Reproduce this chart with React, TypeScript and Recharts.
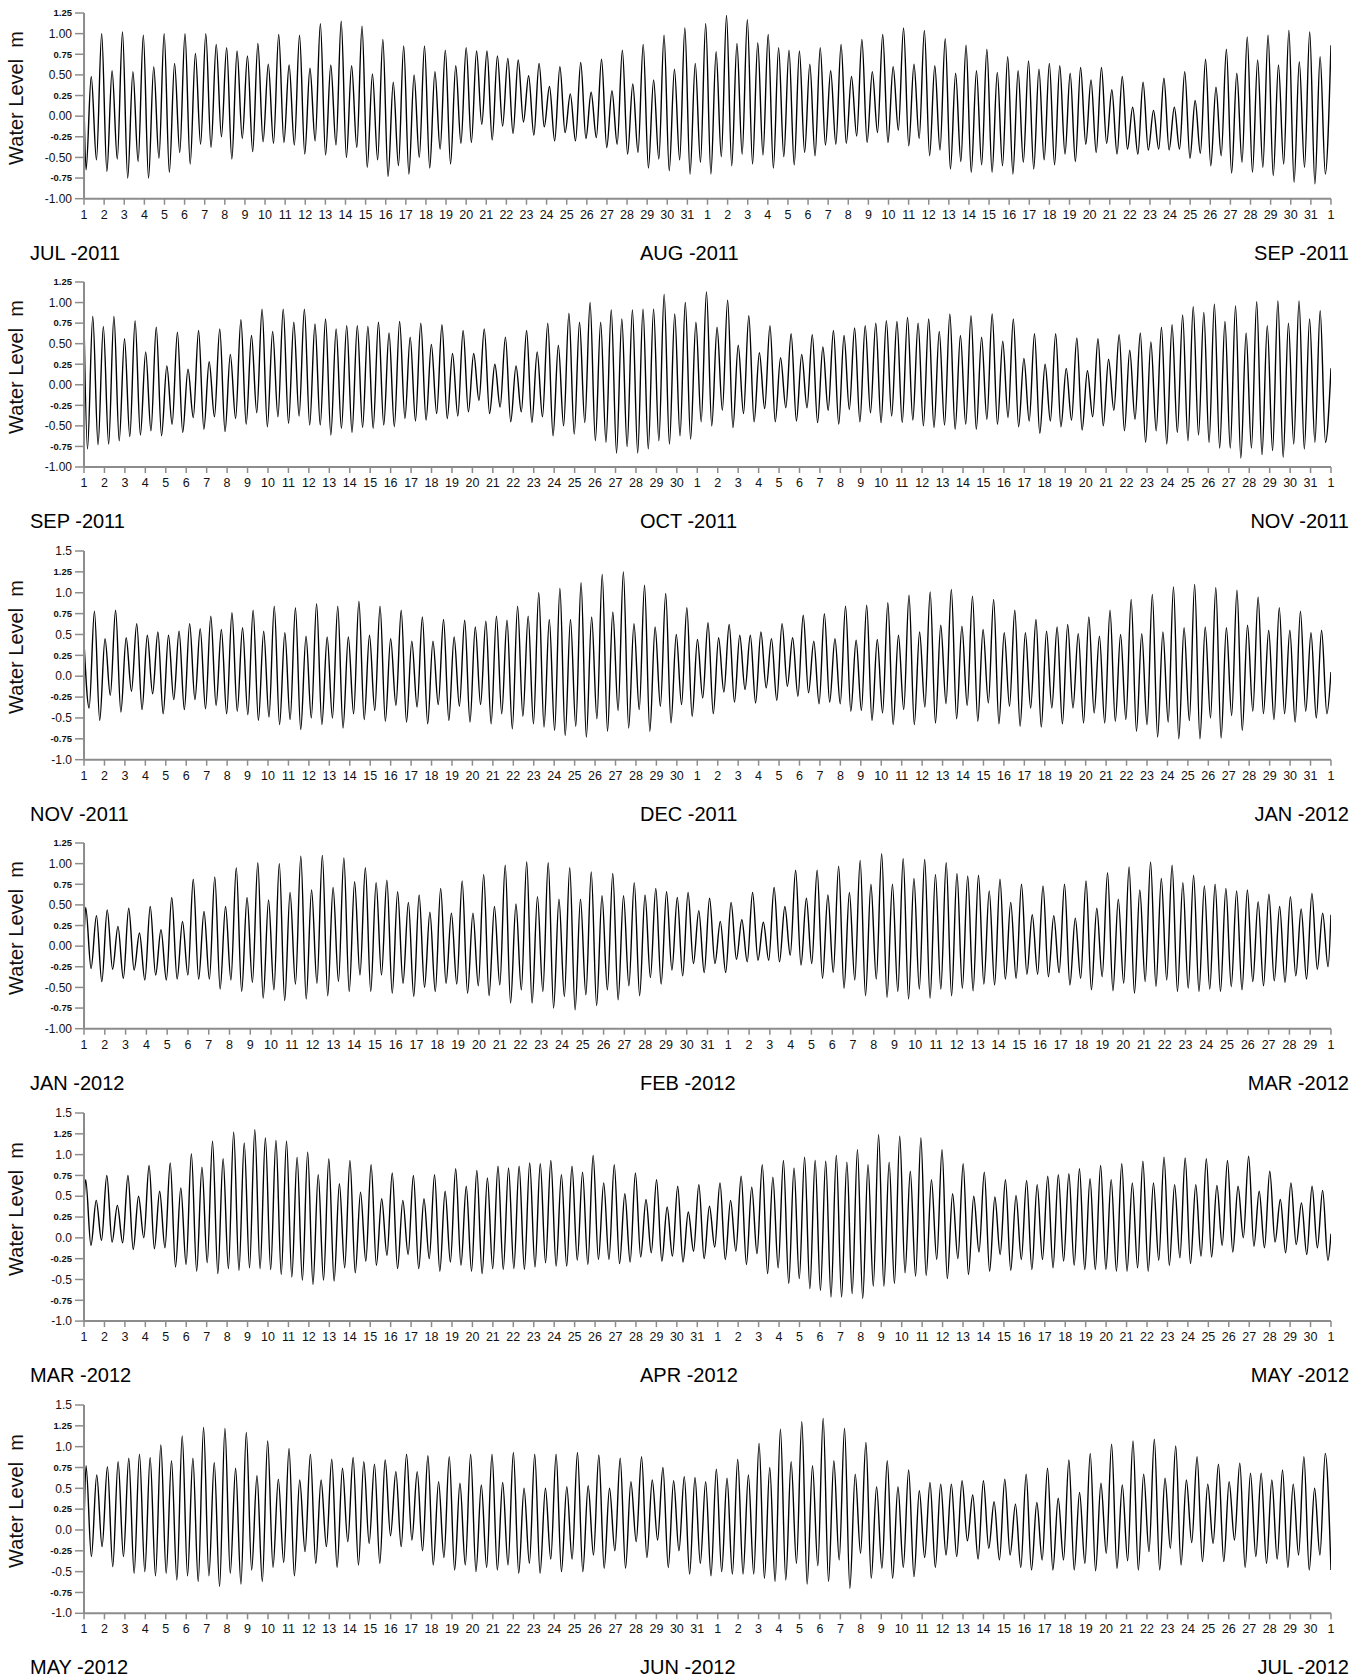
import { LineChart, Line, XAxis, YAxis } from 'recharts';

// Water level turning points (m): first value = level at the
// panel's left edge, last value = level at its right edge, everything between is the
// alternating sequence of tidal highs and lows.
const julAug2011 = [
  0.12,
  -0.65, 0.48, -0.53, 1.0, -0.67, 0.55, -0.52, 1.02, -0.75, 0.54, -0.55, 0.98,
  -0.75, 0.6, -0.51, 1.0, -0.68, 0.64, -0.44, 1.0, -0.58, 0.76, -0.34, 1.0,
  -0.38, 0.87, -0.25, 0.83, -0.52, 0.79, -0.27, 0.73, -0.43, 0.88, -0.31, 0.63,
  -0.33, 0.99, -0.32, 0.62, -0.35, 0.98, -0.46, 0.58, -0.3, 1.12, -0.47, 0.62,
  -0.35, 1.15, -0.5, 0.61, -0.38, 1.09, -0.62, 0.51, -0.53, 0.93, -0.73, 0.41,
  -0.6, 0.85, -0.7, 0.5, -0.5, 0.85, -0.63, 0.54, -0.4, 0.8, -0.58, 0.61,
  -0.33, 0.83, -0.32, 0.79, -0.1, 0.79, -0.29, 0.73, -0.12, 0.7, -0.21, 0.68,
  -0.07, 0.49, -0.23, 0.64, -0.13, 0.36, -0.3, 0.6, -0.2, 0.27, -0.3, 0.65,
  -0.27, 0.29, -0.26, 0.69, -0.38, 0.31, -0.34, 0.8, -0.46, 0.39, -0.44, 0.87,
  -0.63, 0.44, -0.52, 0.98, -0.66, 0.57, -0.53, 1.07, -0.7, 0.64, -0.56, 1.12,
  -0.7, 0.78, -0.49, 1.22, -0.6, 0.88, -0.46, 1.17, -0.58, 0.89, -0.47, 0.99,
  -0.63, 0.83, -0.49, 0.8, -0.59, 0.79, -0.44, 0.63, -0.48, 0.83, -0.35, 0.55,
  -0.34, 0.87, -0.33, 0.48, -0.24, 0.93, -0.32, 0.54, -0.2, 0.99, -0.32, 0.6,
  -0.17, 1.07, -0.36, 0.63, -0.27, 1.04, -0.48, 0.61, -0.41, 0.94, -0.64, 0.52,
  -0.55, 0.86, -0.68, 0.55, -0.59, 0.81, -0.68, 0.53, -0.6, 0.72, -0.7, 0.55,
  -0.56, 0.67, -0.64, 0.57, -0.53, 0.64, -0.59, 0.61, -0.46, 0.52, -0.55, 0.59,
  -0.34, 0.44, -0.44, 0.59, -0.33, 0.32, -0.46, 0.48, -0.4, 0.11, -0.46, 0.41,
  -0.41, 0.07, -0.4, 0.46, -0.41, 0.11, -0.4, 0.54, -0.51, 0.19, -0.45, 0.69,
  -0.6, 0.35, -0.48, 0.81, -0.69, 0.52, -0.56, 0.96, -0.68, 0.68,
  -0.62, 0.98, -0.72, 0.62, -0.58, 1.04, -0.8, 0.66, -0.62, 1.02, -0.82, 0.72,
  -0.7, 0.86,
];

const sepOct2011 = [
  0.78,
  -0.78, 0.83, -0.73, 0.71, -0.72, 0.83, -0.68, 0.56, -0.63, 0.78, -0.61, 0.4,
  -0.56, 0.7, -0.62, 0.23, -0.48, 0.64, -0.58, 0.19, -0.4, 0.66, -0.54, 0.28,
  -0.39, 0.68, -0.57, 0.37, -0.41, 0.79, -0.48, 0.6, -0.34, 0.92, -0.51, 0.65,
  -0.39, 0.92, -0.47, 0.76, -0.38, 0.92, -0.49, 0.74, -0.49, 0.8, -0.61, 0.68,
  -0.53, 0.72, -0.58, 0.72, -0.52, 0.71, -0.53, 0.76, -0.49, 0.63, -0.51, 0.77,
  -0.41, 0.58, -0.44, 0.75, -0.43, 0.49, -0.35, 0.73, -0.41, 0.38, -0.38, 0.66,
  -0.33, 0.38, -0.19, 0.68, -0.35, 0.25, -0.27, 0.58, -0.45, 0.23, -0.33, 0.66,
  -0.46, 0.4, -0.39, 0.75, -0.62, 0.48, -0.5, 0.87, -0.6, 0.76, -0.46, 1.0,
  -0.68, 0.76, -0.7, 0.91, -0.83, 0.8, -0.75, 0.91, -0.83, 0.92, -0.78, 0.92,
  -0.68, 1.1, -0.72, 0.86, -0.62, 1.0, -0.66, 0.76, -0.45, 1.13, -0.5, 0.7,
  -0.31, 1.03, -0.52, 0.48, -0.35, 0.84, -0.45, 0.39, -0.29, 0.72, -0.45, 0.33,
  -0.28, 0.62, -0.44, 0.37, -0.28, 0.61, -0.46, 0.46, -0.31, 0.66, -0.48, 0.6,
  -0.3, 0.69, -0.45, 0.72, -0.34, 0.75, -0.46, 0.78, -0.38, 0.77, -0.46, 0.82,
  -0.43, 0.75, -0.5, 0.8, -0.52, 0.65, -0.49, 0.86, -0.54, 0.6, -0.48, 0.84,
  -0.54, 0.58, -0.42, 0.86, -0.48, 0.53, -0.4, 0.8, -0.51, 0.32, -0.44, 0.62,
  -0.59, 0.25, -0.44, 0.62, -0.51, 0.2, -0.43, 0.57, -0.55, 0.17, -0.39, 0.56,
  -0.5, 0.31, -0.31, 0.61, -0.56, 0.42, -0.42, 0.63, -0.7, 0.52, -0.56, 0.7,
  -0.72, 0.73, -0.58, 0.85, -0.68, 0.95, -0.61, 0.88, -0.7, 0.98, -0.77, 0.77,
  -0.77, 0.96, -0.89, 0.63, -0.77, 1.01,
  -0.85, 0.72, -0.8, 1.02, -0.88, 0.75, -0.72, 1.02, -0.78, 0.8, -0.7, 0.9,
  -0.7, 0.2,
];

const novDec2011 = [
  0.4,
  -0.38, 0.78, -0.53, 0.45, -0.23, 0.79, -0.43, 0.46, -0.18, 0.63, -0.4, 0.49,
  -0.21, 0.53, -0.45, 0.49, -0.28, 0.54, -0.4, 0.63, -0.28, 0.57, -0.39, 0.72,
  -0.35, 0.56, -0.45, 0.76, -0.42, 0.58, -0.46, 0.79, -0.53, 0.54, -0.49, 0.84,
  -0.58, 0.52, -0.52, 0.82, -0.64, 0.48, -0.5, 0.87, -0.58, 0.47, -0.5, 0.84,
  -0.62, 0.47, -0.45, 0.9, -0.52, 0.49, -0.41, 0.84, -0.54, 0.45, -0.35, 0.79,
  -0.55, 0.42, -0.37, 0.71, -0.57, 0.42, -0.34, 0.68, -0.53, 0.47, -0.36, 0.67,
  -0.55, 0.59, -0.34, 0.66, -0.57, 0.72, -0.45, 0.67, -0.63, 0.84, -0.48, 0.72,
  -0.57, 1.0, -0.61, 0.68, -0.65, 1.05, -0.71, 0.68, -0.6, 1.12, -0.73, 0.71,
  -0.51, 1.22, -0.66, 0.77, -0.41, 1.25, -0.62, 0.63, -0.4, 1.09,
  -0.66, 0.59, -0.36, 0.99, -0.56, 0.5, -0.34, 0.82, -0.48, 0.44, -0.26, 0.64,
  -0.45, 0.46, -0.19, 0.62, -0.31, 0.49, -0.16, 0.49, -0.32, 0.53, -0.14, 0.45,
  -0.29, 0.63, -0.12, 0.46, -0.24, 0.73, -0.2, 0.42, -0.33, 0.75, -0.31, 0.45,
  -0.33, 0.84, -0.42, 0.43, -0.41, 0.85, -0.53, 0.44, -0.44, 0.88, -0.58, 0.49,
  -0.4, 0.97, -0.58, 0.53, -0.37, 1.01, -0.56, 0.61, -0.33, 1.04, -0.51, 0.6,
  -0.35, 0.96, -0.54, 0.56, -0.32, 0.92, -0.57, 0.52, -0.36, 0.79, -0.6, 0.52,
  -0.38, 0.68, -0.61, 0.54, -0.38, 0.59, -0.57, 0.62, -0.38, 0.51, -0.56, 0.71,
  -0.44, 0.48, -0.56, 0.79, -0.54, 0.5, -0.52, 0.92, -0.66, 0.51, -0.58, 0.98,
  -0.73, 0.53, -0.55, 1.07, -0.75, 0.58, -0.53, 1.1, -0.75, 0.59, -0.5, 1.06,
  -0.74, 0.58, -0.47, 1.03, -0.65, 0.61, -0.42, 0.95,
  -0.45, 0.55, -0.52, 0.82, -0.45, 0.55, -0.55, 0.78, -0.42, 0.52, -0.5, 0.55,
  -0.45, 0.05,
];

const janFeb2012 = [
  0.1,
  0.47,
  -0.27, 0.37, -0.43, 0.44, -0.28, 0.24, -0.39, 0.46, -0.29, 0.16, -0.41, 0.48,
  -0.35, 0.2, -0.41, 0.59, -0.4, 0.3, -0.35, 0.81, -0.4, 0.42, -0.4, 0.84,
  -0.52, 0.48, -0.41, 0.95, -0.55, 0.59, -0.44, 1.01, -0.63, 0.56, -0.53, 1.0,
  -0.66, 0.65, -0.46, 1.09, -0.64, 0.68, -0.45, 1.1, -0.6, 0.71, -0.43, 1.07,
  -0.55, 0.78, -0.35, 0.95, -0.55, 0.77, -0.35, 0.8, -0.57, 0.66, -0.45, 0.53,
  -0.61, 0.62, -0.5, 0.41, -0.55, 0.7, -0.45, 0.4, -0.46, 0.79, -0.57, 0.4,
  -0.48, 0.87, -0.6, 0.48, -0.47, 0.98, -0.69, 0.51, -0.53, 1.02, -0.69, 0.6,
  -0.55, 1.01, -0.75, 0.57, -0.61, 0.95, -0.77, 0.57, -0.59, 0.9, -0.72, 0.61,
  -0.53, 0.88, -0.65, 0.61, -0.48, 0.77, -0.6, 0.62, -0.38, 0.7,
  -0.46, 0.66, -0.29, 0.59, -0.36, 0.65, -0.21, 0.43, -0.32, 0.58, -0.21, 0.3,
  -0.32, 0.53, -0.16, 0.32, -0.19, 0.65, -0.17, 0.29, -0.17, 0.71, -0.19, 0.48,
  -0.11, 0.92, -0.23, 0.58, -0.21, 0.92, -0.39, 0.62, -0.32, 0.97, -0.51, 0.65,
  -0.41, 1.04, -0.6, 0.75, -0.4, 1.12, -0.62, 0.75, -0.55, 1.06, -0.64, 0.82,
  -0.52, 1.05, -0.63, 0.87, -0.52, 1.01, -0.6, 0.88, -0.51, 0.85, -0.54, 0.86,
  -0.46, 0.67, -0.47, 0.81, -0.4, 0.53, -0.39, 0.75, -0.34, 0.38, -0.34, 0.73,
  -0.37, 0.37, -0.32, 0.75, -0.47, 0.34, -0.39, 0.79, -0.53, 0.46, -0.37, 0.89,
  -0.54, 0.57, -0.45, 0.96, -0.57, 0.68, -0.43, 1.02, -0.49, 0.82, -0.41, 0.98,
  -0.55, 0.77, -0.51, 0.86, -0.55, 0.73, -0.52, 0.75, -0.55, 0.7, -0.49, 0.67,
  -0.53, 0.68, -0.43, 0.54,
  -0.48, 0.63, -0.42, 0.48, -0.44, 0.6, -0.36, 0.45, -0.4, 0.64, -0.28, 0.4,
  -0.25, 0.38,
];

const marApr2012 = [
  0.42,
  0.7,
  -0.09, 0.45, -0.03, 0.75, -0.05, 0.39, -0.06, 0.75, -0.14, 0.5, 0.0, 0.87,
  -0.13, 0.56, -0.12, 0.9, -0.35, 0.6, -0.32, 1.01, -0.4, 0.85, -0.3, 1.16,
  -0.43, 0.95, -0.37, 1.27, -0.39, 1.14, -0.36, 1.3, -0.37, 1.2, -0.38, 1.17,
  -0.44, 1.16, -0.47, 0.97, -0.51, 1.03, -0.56, 0.76, -0.51, 0.95, -0.52, 0.65,
  -0.36, 0.93, -0.42, 0.55, -0.28, 0.88, -0.33, 0.47, -0.21, 0.78, -0.37, 0.45,
  -0.2, 0.75, -0.37, 0.47, -0.25, 0.76, -0.4, 0.56, -0.29, 0.83, -0.33, 0.62,
  -0.4, 0.81, -0.43, 0.72, -0.37, 0.86, -0.38, 0.84, -0.37, 0.86, -0.38, 0.9,
  -0.35, 0.89, -0.3, 0.93, -0.34, 0.76, -0.34, 0.86, -0.27, 0.79, -0.32, 0.99,
  -0.26, 0.66, -0.26, 0.88, -0.31, 0.53, -0.29, 0.78, -0.23, 0.46, -0.18, 0.7,
  -0.28, 0.37, -0.22, 0.62, -0.29, 0.31, -0.16, 0.64, -0.25, 0.38, -0.11, 0.66,
  -0.26, 0.45, -0.16, 0.74, -0.32, 0.61, -0.19, 0.88, -0.43, 0.73, -0.36, 0.93,
  -0.55, 0.84, -0.49, 0.97, -0.61, 0.93, -0.63, 0.92, -0.71, 0.99, -0.71, 0.91,
  -0.67, 1.06, -0.73, 0.88, -0.58, 1.24, -0.58, 0.91, -0.55, 1.22, -0.42, 0.8,
  -0.46, 1.2, -0.45, 0.7, -0.26, 1.06, -0.49, 0.53, -0.25, 0.89, -0.44, 0.5,
  -0.17, 0.79, -0.4, 0.49, -0.2, 0.7, -0.39, 0.51, -0.26, 0.69, -0.38, 0.64,
  -0.26, 0.74, -0.36, 0.76, -0.28, 0.77, -0.33, 0.83, -0.38, 0.71, -0.38, 0.87,
  -0.38, 0.7, -0.4, 0.89, -0.4, 0.66, -0.36, 0.92, -0.4, 0.66, -0.27, 0.97,
  -0.33, 0.64, -0.24, 0.96, -0.31, 0.64, -0.22, 0.95, -0.23, 0.63, -0.09, 0.93,
  -0.17, 0.62, 0.0, 0.98, -0.1, 0.56,
  -0.12, 0.8, -0.05, 0.46, -0.18, 0.66, -0.08, 0.42, -0.2, 0.62, -0.12, 0.57,
  -0.27, 0.05,
];

const mayJun2012 = [
  0.05,
  0.77,
  -0.32, 0.66, -0.2, 0.76, -0.44, 0.82, -0.32, 0.86, -0.52, 0.91, -0.5, 0.87,
  -0.55, 1.02, -0.52, 0.83, -0.6, 1.13, -0.55, 0.86, -0.62, 1.23, -0.55, 0.81,
  -0.68, 1.22, -0.52, 0.74, -0.65, 1.17, -0.48, 0.65, -0.62, 1.07, -0.45, 0.61,
  -0.39, 0.98, -0.55, 0.6, -0.26, 0.91, -0.4, 0.6, -0.2, 0.85, -0.45, 0.74,
  -0.14, 0.87, -0.42, 0.82, -0.16, 0.79, -0.4, 0.84, -0.07, 0.7, -0.2, 0.91,
  -0.12, 0.7, -0.25, 0.89, -0.42, 0.58, -0.33, 0.88, -0.48, 0.56, -0.42, 0.91,
  -0.5, 0.54, -0.45, 0.91, -0.48, 0.57, -0.42, 0.93, -0.52, 0.5, -0.4, 0.91,
  -0.52, 0.5, -0.35, 0.91, -0.5, 0.52, -0.35, 0.93, -0.5, 0.53, -0.3, 0.9,
  -0.46, 0.5, -0.25, 0.86, -0.46, 0.58, -0.14, 0.88, -0.33, 0.6, -0.12, 0.75,
  -0.45, 0.59, -0.25, 0.64, -0.53, 0.63, -0.4, 0.58, -0.55, 0.73, -0.5, 0.62,
  -0.53, 0.85, -0.53, 0.66, -0.53, 1.04, -0.58, 0.75, -0.62, 1.21, -0.6, 0.82,
  -0.4, 1.3, -0.65, 0.77, -0.43, 1.34, -0.62, 0.83, -0.36, 1.22, -0.7, 0.67,
  -0.28, 1.05, -0.58, 0.52, -0.46, 0.83, -0.58, 0.52, -0.45, 0.72, -0.56, 0.47,
  -0.33, 0.57, -0.45, 0.55, -0.3, 0.55, -0.32, 0.59, -0.13, 0.42, -0.35, 0.59,
  -0.22, 0.34, -0.36, 0.61, -0.3, 0.31, -0.45, 0.67, -0.48, 0.33, -0.36, 0.74,
  -0.48, 0.38, -0.36, 0.84, -0.48, 0.45, -0.4, 0.92, -0.49, 0.56, -0.28, 1.03,
  -0.46, 0.54, -0.37, 1.07, -0.48, 0.67, -0.26, 1.09, -0.48, 0.62, -0.22, 1.01,
  -0.42, 0.6, -0.15, 0.88, -0.38, 0.55, -0.16, 0.79, -0.38, 0.58, -0.12, 0.8,
  -0.45, 0.68, -0.32, 0.68,
  -0.4, 0.6, -0.35, 0.72, -0.45, 0.55, -0.3, 0.88, -0.48, 0.5, -0.3, 0.92,
  -0.48,
];

const PANEL_LEVELS = [julAug2011, sepOct2011, novDec2011, janFeb2012, marApr2012, mayJun2012];

// Day (from the panel's left edge) of the first and last tidal turning point.
const FIRST_TURN = [0.1, 0.17, 0.25, 0.08, 0.08, 0.1];
const LAST_TURN = [61.72, 60.73, 60.8, 59.86, 60.85, 60.72];

const PANEL_MONTHS = [
  ['JUL -2011', 'AUG -2011', 'SEP -2011'],
  ['SEP -2011', 'OCT -2011', 'NOV -2011'],
  ['NOV -2011', 'DEC -2011', 'JAN -2012'],
  ['JAN -2012', 'FEB -2012', 'MAR -2012'],
  ['MAR -2012', 'APR -2012', 'MAY -2012'],
  ['MAY -2012', 'JUN -2012', 'JUL -2012'],
];
const MONTH_DAYS = [
  [31, 31],
  [30, 31],
  [30, 31],
  [31, 29],
  [31, 30],
  [31, 30],
];

const Y_MAX = [1.25, 1.25, 1.5, 1.25, 1.5, 1.5];
const Y_TICKS_125 = [-1, -0.75, -0.5, -0.25, 0, 0.25, 0.5, 0.75, 1, 1.25];
const Y_LABELS_125 = ['-1.00', '-0.75', '-0.50', '-0.25', '0.00', '0.25', '0.50', '0.75', '1.00', '1.25'];
const Y_TICKS_150 = [-1, -0.75, -0.5, -0.25, 0, 0.25, 0.5, 0.75, 1, 1.25, 1.5];
const Y_LABELS_150 = ['-1.0', '-0.75', '-0.5', '-0.25', '0.0', '0.25', '0.5', '0.75', '1.0', '1.25', '1.5'];

// layout
const PLOT_TOP = [13.3, 282.3, 551, 843.3, 1112.7, 1404.7];
const PLOT_BOTTOM = [199, 467.3, 759.7, 1029, 1320.8, 1613];
const PLOT_LEFT = 84;
const PLOT_RIGHT = 1331;
const M_TOP = 8;
const X_AXIS_H = 30;
const AXIS_GREY = '#8c8c8c';

function buildSeries(levels: number[], firstTurn: number, lastTurn: number, total: number) {
  const n = levels.length - 2;
  const step = (lastTurn - firstTurn) / (n - 1);
  const pts = [{ t: 0, v: levels[0] }];
  for (let i = 0; i < n; i++) pts.push({ t: firstTurn + i * step, v: levels[i + 1] });
  pts.push({ t: total, v: levels[levels.length - 1] });
  return pts;
}

function YTick(props: any) {
  const { x, y, payload, ticks, labels } = props;
  const label = labels[ticks.indexOf(payload.value)] ?? '';
  const dec = label.split('.')[1] || '';
  const minor = dec.length === 2 && dec.endsWith('5');
  return (
    <text
      x={x}
      y={y}
      dy="0.35em"
      textAnchor="end"
      fontSize={minor ? 9.5 : 12}
      fontWeight={minor ? 700 : 400}
      fill="#111"
    >
      {label}
    </text>
  );
}

function Panel({ idx }: { idx: number }) {
  const [d1, d2] = MONTH_DAYS[idx];
  const total = d1 + d2;
  const dayLabels: string[] = [];
  for (let d = 1; d <= d1; d++) dayLabels.push(String(d));
  for (let d = 1; d <= d2; d++) dayLabels.push(String(d));
  dayLabels.push('1');
  const xTicks = dayLabels.map((_, i) => i);

  const data = buildSeries(PANEL_LEVELS[idx], FIRST_TURN[idx], LAST_TURN[idx], total);
  const yMax = Y_MAX[idx];
  const yTicks = yMax === 1.5 ? Y_TICKS_150 : Y_TICKS_125;
  const yLabels = yMax === 1.5 ? Y_LABELS_150 : Y_LABELS_125;

  const top = PLOT_TOP[idx];
  const bottom = PLOT_BOTTOM[idx];
  const h = bottom - top + M_TOP + X_AXIS_H;
  const months = PANEL_MONTHS[idx];
  const monthY = bottom + 54 - 12;
  const labelCy = (top + bottom) / 2 - 8;

  return (
    <>
      <div style={{ position: 'absolute', left: 0, top: top - M_TOP }}>
        <LineChart
          width={1360}
          height={h}
          data={data}
          margin={{ top: M_TOP, right: 1360 - PLOT_RIGHT, bottom: 0, left: 0 }}
        >
          <XAxis
            dataKey="t"
            type="number"
            domain={[0, total]}
            ticks={xTicks}
            interval={0}
            height={X_AXIS_H}
            tickFormatter={(v: number) => dayLabels[v]}
            axisLine={{ stroke: AXIS_GREY, strokeWidth: 2 }}
            tickLine={{ stroke: AXIS_GREY, strokeWidth: 1.5 }}
            tickSize={6}
            tickMargin={5}
            tick={{ fontSize: 12.5, fill: '#111' }}
            allowDataOverflow
          />
          <YAxis
            type="number"
            domain={[-1, yMax]}
            ticks={yTicks}
            interval={0}
            width={PLOT_LEFT}
            axisLine={{ stroke: AXIS_GREY, strokeWidth: 2 }}
            tickLine={{ stroke: AXIS_GREY, strokeWidth: 1.5 }}
            tickSize={9}
            tickMargin={3}
            tick={(p: any) => <YTick {...p} ticks={yTicks} labels={yLabels} />}
            allowDataOverflow
          />
          <Line
            dataKey="v"
            type="monotone"
            stroke="#000"
            strokeWidth={1.4}
            dot={false}
            isAnimationActive={false}
          />
        </LineChart>
      </div>
      <div
        style={{
          position: 'absolute',
          left: 16 - 110,
          top: labelCy - 12,
          width: 220,
          height: 24,
          lineHeight: '24px',
          textAlign: 'center',
          fontSize: 20,
          color: '#111',
          transform: 'rotate(-90deg)',
          whiteSpace: 'pre',
        }}
      >
        {'Water Level  m'}
      </div>
      <div style={{ position: 'absolute', left: 30, top: monthY, fontSize: 20, lineHeight: '24px' }}>
        {months[0]}
      </div>
      <div style={{ position: 'absolute', left: 640, top: monthY, fontSize: 20, lineHeight: '24px' }}>
        {months[1]}
      </div>
      <div
        style={{
          position: 'absolute',
          right: 1360 - 1349,
          top: monthY,
          fontSize: 20,
          lineHeight: '24px',
          textAlign: 'right',
        }}
      >
        {months[2]}
      </div>
    </>
  );
}

export default function App() {
  return (
    <div
      style={{
        position: 'absolute',
        left: 0,
        top: 0,
        width: 1360,
        height: 1678,
        background: '#fff',
        fontFamily: '"Liberation Sans", Arial, Helvetica, sans-serif',
        color: '#000',
        overflow: 'hidden',
      }}
    >
      {PANEL_LEVELS.map((_, i) => (
        <Panel key={i} idx={i} />
      ))}
    </div>
  );
}
